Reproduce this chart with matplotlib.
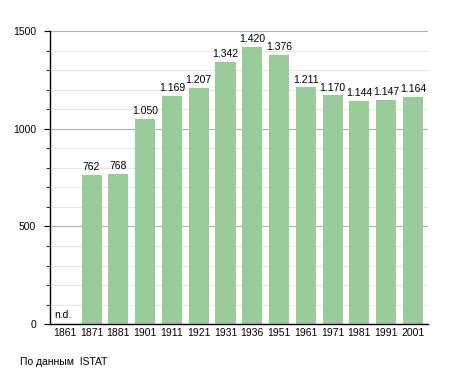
import numpy as np
import matplotlib.pyplot as plt
from matplotlib.ticker import MultipleLocator

plt.rcParams['font.family'] = ['Liberation Sans', 'DejaVu Sans']

years = ['1861', '1871', '1881', '1901', '1911', '1921', '1931', '1936',
         '1951', '1961', '1971', '1981', '1991', '2001']
population = [np.nan, 762, 768, 1050, 1169, 1207, 1342, 1420,
              1376, 1211, 1170, 1144, 1147, 1164]
source = 'По данным  ISTAT'

fig = plt.figure(figsize=(4.55, 3.73), dpi=100)
ax = fig.add_axes([0.11, 0.131, 0.83, 0.786])

x = np.arange(len(years))
vals = np.nan_to_num(population)
ax.bar(x, vals, width=0.75, color='#99cc99', zorder=2)

for xi, v in zip(x, population):
    if np.isnan(v):
        ax.text(xi - 0.4, 20, 'n.d.', fontsize=7.5, ha='left', va='bottom')
    else:
        lbl = f'{int(v):,}'.replace(',', '.')
        ax.text(xi, v + 15, lbl, fontsize=7.5, ha='center', va='bottom')

ax.set_xlim(-0.55, len(years) - 0.45)
ax.set_ylim(0, 1500)
ax.set_xticks(x)
ax.set_xticklabels(years, fontsize=7.5)
ax.tick_params(axis='x', length=0, pad=3)
ax.yaxis.set_major_locator(MultipleLocator(500))
ax.yaxis.set_minor_locator(MultipleLocator(100))
ax.tick_params(axis='y', which='major', length=4, labelsize=7.5, pad=6)
ax.tick_params(axis='y', which='minor', length=3)
ax.grid(axis='y', which='major', color='#b0b0b0', linewidth=0.8, zorder=0)
ax.grid(axis='y', which='minor', color='#e8e8e8', linewidth=0.8, zorder=0)
ax.set_axisbelow(True)
for s in ['top', 'right']:
    ax.spines[s].set_visible(False)
ax.spines['left'].set_linewidth(1.0)
ax.spines['bottom'].set_linewidth(1.0)

fig.text(20 / 455, 1 - 362 / 373, source, fontsize=7.5, ha='left', va='center')

fig.savefig('out.png', dpi=100)
